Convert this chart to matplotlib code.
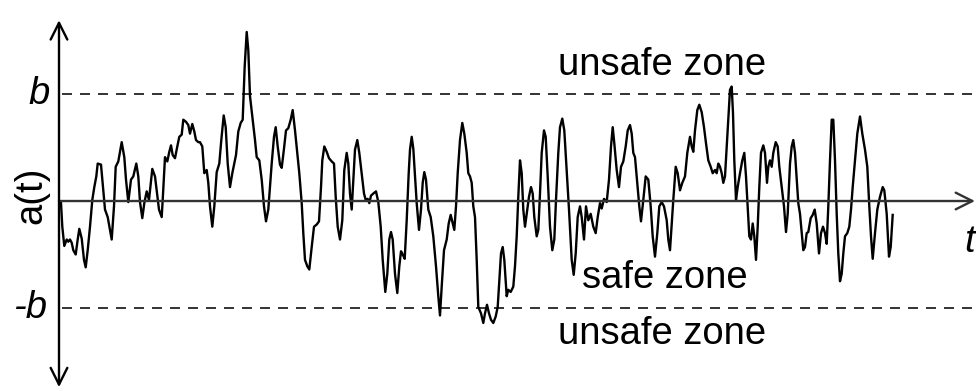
import matplotlib
matplotlib.use("Agg")
import matplotlib.pyplot as plt

# signal a(t), in units of b (b = 1); t in arbitrary time units
t = [0, 1.3, 3.3, 5.7, 7.3, 9, 10.7, 12.3, 14.7, 16.7, 18.3, 20.7, 23, 24.7, 26.7, 29, 31.3, 33.3, 35.3, 36.7,
     40, 42.3, 44, 46.7, 49, 50.7, 53, 54.7, 57.3, 60.7, 63.3, 65, 67.3, 70, 72.3, 75.3, 77.3, 79, 81.3, 83.3,
     85.7, 88, 91.3, 94, 95.7, 98, 100.7,
     101.7, 104, 106.3, 108.3, 110, 111.7, 114, 116.3, 118.3, 120.7, 122.3, 125, 127.3, 129, 131.3, 133.3, 135,
     137.3, 139, 141.3, 143.3, 145.7, 147.3, 149, 151.3, 153.3, 155.7, 158.3, 160.3, 162.7, 164.7, 166.7, 169,
     171.3, 175, 177.3, 179.7, 181.7, 183.7, 185.7, 187.3, 189, 191.7, 194, 195.7, 198.3, 200.7, 203, 205,
     207.3, 209, 210.7, 213, 214.7, 216.7, 219, 220.7, 223, 225, 227.3, 229.7, 231.7, 234, 236.3, 238.3, 240.7,
     242.3, 244, 246.3, 248.3, 250.7, 253, 255.7, 258, 260, 261.3, 263.3, 265.7, 268, 270.7, 273, 274.7, 276.7,
     279, 281.3, 283.3, 285.7, 287.3, 289, 290.7, 292.3, 294, 296.3, 298.3, 300.7, 303, 304.7, 306.7, 308.3,
     310, 312.3,
     315, 317.3, 319.7, 321.7, 324.3, 326.3, 328.3, 330, 331.7, 334, 336.3, 338.3, 340, 341.7, 343.7, 345.7,
     347.7, 349, 350.7, 352.3, 354, 355.7, 358, 360, 361.7, 363.3, 365, 367.3, 369.7, 372.3, 375, 377.3, 379,
     380.7, 383, 385.7, 387.7, 389.7, 391.7, 393.3, 395, 396.7, 399, 401.3, 403.3, 405.7, 407.3, 409, 410.7,
     412.3,
     414, 415.7, 417.3, 420, 422.3, 424, 426, 428, 430, 432.3, 434.7, 436.7, 438.3, 440, 441.7, 443.3, 445.7,
     447.3, 449.7, 452.3, 454, 455.7, 457.3, 459, 460.7, 462.3, 464, 465.7, 468, 470, 471.7, 473.3, 475.7,
     477.3, 479, 480.7, 483, 484.7, 486.7, 489, 491.3, 493.3, 495, 497.3, 499, 501.3, 503.3, 505.7, 508,
     510.7, 512.7, 514.7, 516.7, 519,
     520.7, 523, 525, 527.3, 529.7, 532.3, 534.7, 536.7, 539, 540.7, 543, 545.7, 548, 550, 551.7, 553.3,
     555.7, 558, 560, 562.3, 564.7, 566.7, 569, 570.7, 572.3, 574, 576.3, 578.3, 580, 582.3, 584.7, 587.3,
     589.7, 591.7, 594, 596.3, 598.3, 600.7, 603, 605.7, 607.3, 609, 610.7, 612.3, 614.7, 616.7, 619, 621.3,
     624, 626.3,
     629, 630.7, 632.3, 634, 636.3, 638.3, 640.7, 643, 645, 647.3, 649.7, 651.7, 654, 655.7, 657.3, 659,
     660.7, 662.3, 664, 665.7, 667.3, 669, 670.7, 672, 673.3, 675, 676.7, 679, 681.3, 683.3, 685, 686.7,
     688.3, 690, 691.7, 693.3, 695, 696.7, 698.3, 700, 702.3, 704, 706, 707.3, 709, 710.7, 712.3, 714.7,
     716.7, 718.3, 720.7, 723, 725, 726.7,
     729, 730.7, 732.3, 734, 735.7, 737.3, 739, 740.7, 742.3, 744, 745.7, 747.3, 749.7, 751.7, 753.7, 755.7,
     758, 760, 762, 764, 765.7, 767.3, 769, 770.7, 772.3, 774, 775.7, 777.3, 779, 780.7, 782.3, 784, 786.3,
     788.3, 790, 791.7, 794, 796.3, 799, 801.3, 804, 806.3, 808.3, 810, 811.7, 814, 816.3, 819, 821.7, 823.3,
     825.7, 828, 829.7, 831.7]
a = [-0.02, -0.24, -0.42, -0.36, -0.38, -0.36, -0.39, -0.46, -0.50, -0.36, -0.26, -0.35, -0.55, -0.62, -0.46,
     -0.24, 0.01, 0.13, 0.23, 0.35, 0.34, 0.10, -0.08, -0.15, -0.27, -0.36, -0.05, 0.32, 0.37, 0.55, 0.41,
     0.20, -0.01, 0.20, 0.23, 0.35, 0.23, -0.01, -0.16, -0.02, 0.09, 0.01, 0.30, 0.23, 0.10, -0.08, -0.15,
     0.01, 0.41, 0.37, 0.46, 0.52, 0.43, 0.40, 0.51, 0.60, 0.62, 0.76, 0.74, 0.71, 0.63, 0.72, 0.65, 0.57,
     0.55, 0.55, 0.51, 0.26, 0.29, 0.17, -0.05, -0.24, -0.05, 0.27, 0.35, 0.57, 0.80, 0.69, 0.35, 0.13,
     0.26, 0.43, 0.65, 0.73, 0.76, 1.26, 1.58, 1.41, 0.98, 0.76, 0.57, 0.41, 0.38, 0.20, -0.05, -0.19,
     -0.08, 0.13, 0.35, 0.60, 0.69, 0.51, 0.34, 0.31, 0.49, 0.66, 0.68, 0.76, 0.85, 0.66, 0.45, 0.26, -0.02,
     -0.30, -0.55, -0.61, -0.64, -0.43, -0.24, -0.22, -0.19, 0.13, 0.38, 0.51, 0.46, 0.40, 0.37, 0.35, 0.04,
     -0.24, -0.36, -0.18, 0.29, 0.45, 0.35, 0.07, -0.08, 0.20, 0.48, 0.57, 0.45, 0.26, 0.07, 0.01, 0.02,
     -0.02, 0.05, 0.07,
     0.09, -0.01, -0.24, -0.55, -0.85, -0.68, -0.36, -0.29, -0.36, -0.68, -0.86, -0.61, -0.47, -0.50, -0.54,
     -0.18, 0.26, 0.48, 0.60, 0.49, 0.23, -0.02, -0.27, -0.08, 0.17, 0.27, 0.20, -0.08, -0.15, -0.33, -0.61,
     -0.89, -1.07, -0.80, -0.46, -0.36, -0.21, -0.13, -0.21, -0.27, -0.05, 0.26, 0.57, 0.73, 0.63, 0.45,
     0.26, 0.23, 0.17, -0.05,
     -0.15, -0.55, -0.99, -1.05, -1.14, -1.05, -0.97, -1.05, -1.11, -1.14, -1.08, -0.99, -0.74, -0.49, -0.43,
     -0.55, -0.89, -0.83, -0.85, -0.80, -0.61, -0.33, 0.04, 0.38, 0.26, -0.08, -0.24, -0.12, 0.04, 0.13,
     0.07, -0.15, -0.33, -0.27, 0.07, 0.45, 0.66, 0.60, 0.23, -0.24, -0.46, -0.36, 0.01, 0.45, 0.69, 0.77,
     0.66, 0.29, -0.08, -0.55, -0.69, -0.49, -0.15, -0.05,
     -0.15, -0.36, -0.05, -0.18, -0.12, -0.24, -0.30, -0.15, -0.02, -0.07, 0.02, -0.01, 0.20, 0.51, 0.69,
     0.54, 0.29, 0.13, 0.32, 0.37, 0.51, 0.66, 0.71, 0.63, 0.45, 0.41, 0.17, -0.05, -0.19, 0.01, 0.23, 0.20,
     -0.05, -0.33, -0.52, -0.30, -0.05, -0.01, -0.05, -0.18, -0.36, -0.46, -0.21, 0.01, 0.32, 0.26, 0.10,
     0.17, 0.23, 0.45,
     0.60, 0.51, 0.46, 0.66, 0.85, 0.90, 0.83, 0.69, 0.54, 0.38, 0.32, 0.26, 0.29, 0.26, 0.35, 0.32, 0.26,
     0.17, 0.23, 0.51, 0.79, 1.04, 1.07, 0.82, 0.38, 0.01, 0.13, 0.26, 0.38, 0.45, 0.23, -0.05, -0.33, -0.36,
     -0.21, -0.33, -0.55, -0.24, 0.13, 0.45, 0.52, 0.45, 0.17, 0.32, 0.38, 0.32, 0.45, 0.55, 0.51, 0.32,
     0.13, -0.05, -0.29, -0.12,
     0.35, 0.51, 0.57, 0.45, 0.20, -0.02, -0.12, -0.30, -0.46, -0.43, -0.30, -0.29, -0.16, -0.13, -0.08,
     -0.21, -0.49, -0.30, -0.24, -0.30, -0.40, -0.05, 0.38, 0.76, 0.76, 0.38, -0.12, -0.49, -0.75, -0.68,
     -0.49, -0.33, -0.30, -0.24, -0.08, 0.13, 0.38, 0.63, 0.79, 0.63, 0.48, 0.32, -0.05, -0.33, -0.54,
     -0.30, -0.08, 0.04, 0.13, 0.10, -0.12, -0.52, -0.43, -0.13]

b = 1.0
zone_labels = ["unsafe zone", "safe zone", "unsafe zone"]
level_labels = ["b", "-b"]
axis_labels = ["a(t)", "t"]

plt.rcParams['font.family'] = ['Liberation Sans', 'DejaVu Sans']

fig = plt.figure(figsize=(9.76, 3.91), dpi=100)
ax = fig.add_axes([0, 0, 1, 1])
ax.set_xlim(-61, 915)
ax.set_ylim(-1.776, 1.879)
ax.axis('off')

# threshold lines
for lev in (b, -b):
    ln, = ax.plot([1, 915], [lev, lev], color='#111111', lw=1.2)
    ln.set_dashes([6.0, 4.8])

# axes with arrows
ax.annotate('', xy=(914, 0), xytext=(-2, 0),
            arrowprops=dict(arrowstyle='->,head_length=0.6,head_width=0.3', lw=1.7,
                            color='#333333', mutation_scale=20, shrinkA=0, shrinkB=0))
ax.annotate('', xy=(-2, 1.69), xytext=(-2, -1.74),
            arrowprops=dict(arrowstyle='<->,head_length=0.6,head_width=0.3', lw=1.7,
                            color='black', mutation_scale=20, shrinkA=0, shrinkB=0))

# signal
ax.plot(t, a, color='black', lw=1.7)

fs = 27.5
ax.text(601, 1.27, zone_labels[0], fontsize=fs, ha='center', va='center')
ax.text(604, -0.72, zone_labels[1], fontsize=fs, ha='center', va='center')
ax.text(601, -1.24, zone_labels[2], fontsize=fs, ha='center', va='center')
ax.text(-22, b, level_labels[0], fontsize=fs, ha='center', va='center', style='italic')
ax.text(-31, -b, level_labels[1], fontsize=fs, ha='center', va='center', style='italic')
ax.text(-30, 0.05, axis_labels[0], fontsize=fs, ha='center', va='center', rotation=90)
ax.text(909, -0.38, axis_labels[1], fontsize=fs, ha='center', va='center', style='italic')

fig.savefig('out.png', dpi=100)
